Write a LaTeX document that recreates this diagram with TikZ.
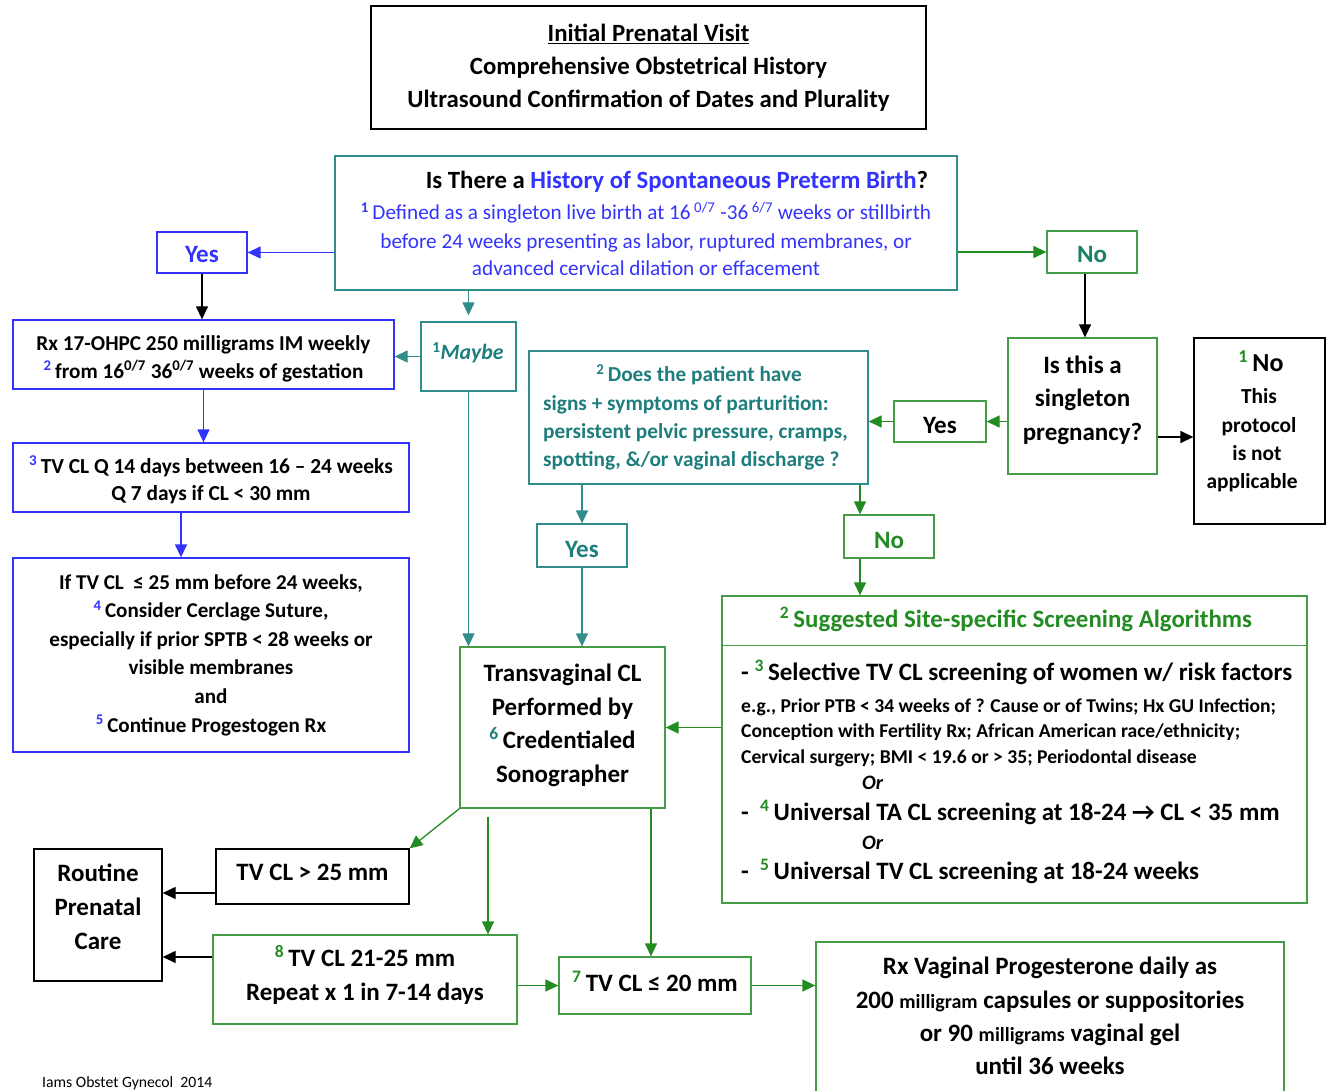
\documentclass[tikz,border=0pt]{standalone}
\usepackage{fontspec}
\setmainfont{Carlito}
\usetikzlibrary{arrows.meta,calc}
\definecolor{myblue}{RGB}{51,51,255}
\definecolor{tealb}{RGB}{49,140,140}
\definecolor{tealt}{RGB}{30,125,125}
\definecolor{grn}{RGB}{70,155,70}
\definecolor{grnt}{RGB}{34,139,34}
\definecolor{tgrn}{RGB}{25,130,100}
\newcommand{\fs}[2]{\fontsize{#1}{#2}\selectfont}
\newcommand{\sps}[2][black]{\textsuperscript{\textcolor{#1}{#2}}\,}
\newcommand{\mv}[2]{\raisebox{#1}[\height][\depth]{\begin{tabular}{@{}c@{}}#2\end{tabular}}}
\begin{document}
\begin{tikzpicture}[x=1pt,y=-1pt,
  bx/.style={draw, line width=1.3pt, inner sep=0pt, align=center, font=\bfseries\fs{25}{33.5}},
  arr/.style={-{Triangle[length=13pt,width=12pt]}, line width=1.3pt},
  txt/.style={inner sep=0pt, yshift=-5.5pt, font=\bfseries\fs{21.3}{28}},
]
\useasboundingbox (0,0) rectangle (1326,1091);

% top
\node[bx, minimum width=555pt, minimum height=123pt, font=\bfseries\fs{24.8}{33}] (top) at (648.5,67.5)
 {\underline{Initial Prenatal Visit}\\Comprehensive Obstetrical History\\Ultrasound Confirmation of Dates and Plurality};

% history
\node[bx, draw=tealb, minimum width=622pt, minimum height=134pt] (hist) at (646,223) {};
\node[txt, font=\bfseries\fs{24.8}{28}, anchor=mid] (h1) at (677,181) {Is There a \textcolor{myblue}{History of Spontaneous Preterm Birth}?};
\node[txt, font=\fs{21.2}{24}, text=myblue, anchor=mid] (h2) at (646,212) {\sps[myblue]{\bfseries 1}Defined as a singleton live birth at 16\,\textsuperscript{0/7} -36\,\textsuperscript{6/7} weeks or stillbirth};
\node[txt, font=\fs{21.2}{24}, text=myblue, anchor=mid] (h3) at (646,241) {before 24 weeks presenting as labor, ruptured membranes, or};
\node[txt, font=\fs{21.2}{24}, text=myblue, anchor=mid] (h4) at (646,268) {advanced cervical dilation or effacement};

% yes / no
\node[bx, draw=myblue, text=myblue, minimum width=90pt, minimum height=41pt] (yesL) at (202,252.5) {\mv{-3pt}{Yes}};
\node[bx, draw=grn, text=tgrn, minimum width=90pt, minimum height=42pt] (noR) at (1092,252) {\mv{-4pt}{No}};

% left column
\node[bx, draw=myblue, minimum width=381pt, minimum height=69pt, font=\bfseries\fs{21.2}{28}] (rx) at (203.5,354.5)
 {\mv{-4pt}{Rx 17-OHPC 250 milligrams IM weekly\\\sps[myblue]{2}from 16\textsuperscript{0/7} 36\textsuperscript{0/7} weeks of gestation}};
\node[bx, draw=tealb, minimum width=95pt, minimum height=69pt] (maybe) at (468.5,356.5) {};
\node[txt, font=\bfseries\itshape\fs{21.8}{24}, text=tealt, anchor=mid] (maybet) at (468,352) {\textsuperscript{\upshape 1}Maybe};
\node[bx, draw=myblue, minimum width=396pt, minimum height=69pt, font=\bfseries\fs{21.4}{27}] (tvq) at (211,477.5)
 {\mv{-4pt}{\sps[myblue]{3}TV CL Q 14 days between 16 – 24 weeks\\Q 7 days if CL < 30 mm}};
\node[bx, draw=myblue, minimum width=396pt, minimum height=194pt, font=\bfseries\fs{21.1}{28.6}] (cerc) at (211,655)
 {If TV CL \ ≤ 25 mm before 24 weeks,\\\sps[myblue]{4}Consider Cerclage Suture,\\especially if prior SPTB < 28 weeks or\\visible membranes\\and\\\sps[myblue]{5}Continue Progestogen Rx};

% parturition
\node[bx, draw=tealb, minimum width=339pt, minimum height=133pt] (part) at (698.5,417.5) {};
\node[txt, text=tealt, anchor=mid] (p1) at (699,374) {\sps[tealt]{2}Does the patient have};
\node[txt, text=tealt, anchor=mid west] (p2) at (543,403) {signs + symptoms of parturition:};
\node[txt, text=tealt, anchor=mid west] (p3) at (543,431) {persistent pelvic pressure, cramps,};
\node[txt, text=tealt, anchor=mid west] (p4) at (543,459) {spotting, \&/or vaginal discharge ?};

\node[bx, draw=grn, minimum width=92pt, minimum height=41pt] (yesR) at (940,421.5) {\mv{-5pt}{Yes}};
\node[bx, draw=grn, minimum width=149pt, minimum height=136pt] (single) at (1082.5,406) {\mv{6pt}{Is this a\\singleton\\pregnancy?}};
\node[bx, minimum width=131pt, minimum height=186pt] (na) at (1259.5,431) {};
\node[txt, font=\bfseries\fs{26}{28}, anchor=mid] (na1) at (1261,364) {\sps[grnt]{1}No};
\node[txt, font=\bfseries\fs{21.4}{24}, anchor=mid] (na2) at (1259,396) {This};
\node[txt, font=\bfseries\fs{21.4}{24}, anchor=mid] (na3) at (1259,425) {protocol};
\node[txt, font=\bfseries\fs{21.4}{24}, anchor=mid] (na4) at (1257,453) {is not};
\node[txt, font=\bfseries\fs{21.4}{24}, anchor=mid] (na5) at (1252,481) {applicable};

\node[bx, draw=tealb, text=tealt, minimum width=90pt, minimum height=43pt] (yesM) at (582,545.5) {\mv{-5pt}{Yes}};
\node[bx, draw=grn, text=grnt, minimum width=90pt, minimum height=43pt] (noM) at (889,536.5) {\mv{-5pt}{No}};

% transvaginal
\node[bx, draw=grn, minimum width=205pt, minimum height=161pt] (tv) at (562.5,727.5)
 {\mv{2pt}{Transvaginal CL\\Performed by\\\sps[tealt]{6}Credentialed\\Sonographer}};

% screening
\node[bx, draw=grn, minimum width=585pt, minimum height=307pt] (scr) at (1014.5,749.5) {};
\coordinate (divL) at ([yshift=-50pt]scr.north west);
\coordinate (divR) at ([yshift=-50pt]scr.north east);
\draw[grn, line width=1.3pt] (divL) -- (divR);
\node[txt, font=\bfseries\fs{24.9}{28}, text=grnt, anchor=mid] (s0) at (1016,620) {\sps[grnt]{2}Suggested Site-specific Screening Algorithms};
\node[txt, font=\bfseries\fs{25}{28}, anchor=mid west] (s1) at (741,673) {-\ \sps[grnt]{3}Selective TV CL screening of women w/ risk factors};
\node[txt, font=\bfseries\fs{19.6}{22}, anchor=mid west] (s2) at (741,705) {e.g., Prior PTB < 34 weeks of ? Cause or of Twins; Hx GU Infection;};
\node[txt, font=\bfseries\fs{19.6}{22}, anchor=mid west] (s3) at (741,730) {Conception with Fertility Rx; African American race/ethnicity;};
\node[txt, font=\bfseries\fs{19.6}{22}, anchor=mid west] (s4) at (741,756) {Cervical surgery; BMI < 19.6 or > 35; Periodontal disease};
\node[txt, font=\bfseries\itshape\fs{20.5}{22}, anchor=mid west] (s5) at (862,782) {Or};
\node[txt, font=\bfseries\fs{25}{28}, anchor=mid west] (s6) at (741,813) {-\ \ \sps[grnt]{4}Universal TA CL screening at 18-24 → CL < 35 mm};
\node[txt, font=\bfseries\itshape\fs{20.5}{22}, anchor=mid west] (s7) at (862,842) {Or};
\node[txt, font=\bfseries\fs{25}{28}, anchor=mid west] (s8) at (741,872) {-\ \ \sps[grnt]{5}Universal TV CL screening at 18-24 weeks};

% bottom
\node[bx, minimum width=193pt, minimum height=55pt] (gt25) at (312.5,876.5) {\mv{3pt}{TV CL > 25 mm}};
\node[bx, minimum width=128pt, minimum height=132pt, font=\bfseries\fs{25}{34}] (rout) at (98,915) {\mv{6pt}{Routine\\Prenatal\\Care}};
\node[bx, draw=grn, minimum width=304pt, minimum height=89pt, font=\bfseries\fs{25}{34}] (r2125) at (365,979.5) {\mv{3pt}{\sps[grnt]{8}TV CL 21-25 mm\\Repeat x 1 in 7-14 days}};
\node[bx, draw=grn, minimum width=192pt, minimum height=57pt] (le20) at (655,985.5) {\mv{1pt}{\sps[grnt]{7}TV CL ≤ 20 mm}};
\node[bx, draw=grn, minimum width=468pt, minimum height=152pt, font=\bfseries\fs{25}{33.3}] (rxv) at (1050,1018)
 {\mv{0pt}{Rx Vaginal Progesterone daily as\\200 {\fs{20}{33.3}milligram} capsules or suppositories\\or 90 {\fs{20}{33.3}milligrams} vaginal gel\\until 36 weeks}};
\node[inner sep=0pt, font=\fs{15.7}{18}, anchor=mid west] (foot) at (42,1085) {Iams Obstet Gynecol\ \ 2014};

% helper coordinates
\coordinate (hm) at ([yshift=6pt]maybe.north);
\coordinate (nrs) at ([xshift=-7pt]noR.south);
\coordinate (sgE) at ([yshift=-31pt]single.east);
\coordinate (tvqS) at ([xshift=-30pt]tvq.south);
\coordinate (nmN) at ([xshift=-29pt]noM.north);
\coordinate (nmS) at ([xshift=-29pt]noM.south);
\coordinate (tvS1) at ([xshift=-74.5pt,yshift=-8pt]tv.south);
\coordinate (leN) at ([xshift=-4pt]le20.north);
\coordinate (gtW) at ([yshift=-16.5pt]gt25.west);
\coordinate (rW) at ([yshift=22.5pt]r2125.west);

% connectors
\draw[arr, myblue] (hist.west |- yesL) -- (yesL.east);
\draw[arr, grnt] (hist.east |- noR) -- (noR.west);
\draw[arr, tealb] (maybe.north |- hist.south) -- (hm);
\draw[arr, black] (yesL.south) -- (yesL.south |- rx.north);
\draw[arr, tealb] (maybe.west) -- (rx.east |- maybe.west);
\draw[arr, myblue] (rx.south) -- (rx.south |- tvq.north);
\draw[arr, myblue] (tvqS) -- (tvqS |- cerc.north);
\draw[arr, black] (nrs) -- (nrs |- single.north);
\draw[arr, grnt] (single.west |- yesR) -- (yesR.east);
\draw[arr, grnt] (yesR.west) -- (part.east |- yesR.west);
\draw[arr, black] (sgE) -- (na.west |- sgE);
\draw[arr, tealb] (part.south -| yesM) -- (yesM.north);
\draw[arr, tealb] (yesM.south) -- (yesM.south |- tv.north);
\draw[arr, grnt] (nmN |- part.south) -- (nmN);
\draw[arr, grnt] (nmS) -- (nmS |- scr.north);
\draw[arr, tealb] (maybe.south) -- (maybe.south |- tv.north);
\draw[arr, grnt] (scr.west |- tv.east) -- (tv.east);
\draw[arr, grnt] (tv.south west) -- (gt25.north east);
\draw[arr, grnt] (tvS1) -- (tvS1 |- r2125.north);
\draw[arr, grnt] (leN |- tv.south) -- (leN);
\draw[arr, black] (gtW) -- (rout.east |- gtW);
\draw[arr, black] (rW) -- (rout.east |- rW);
\draw[arr, grnt] (r2125.east |- le20) -- (le20.west);
\draw[arr, grnt] (le20.east) -- (rxv.west |- le20.east);
\end{tikzpicture}
\end{document}
